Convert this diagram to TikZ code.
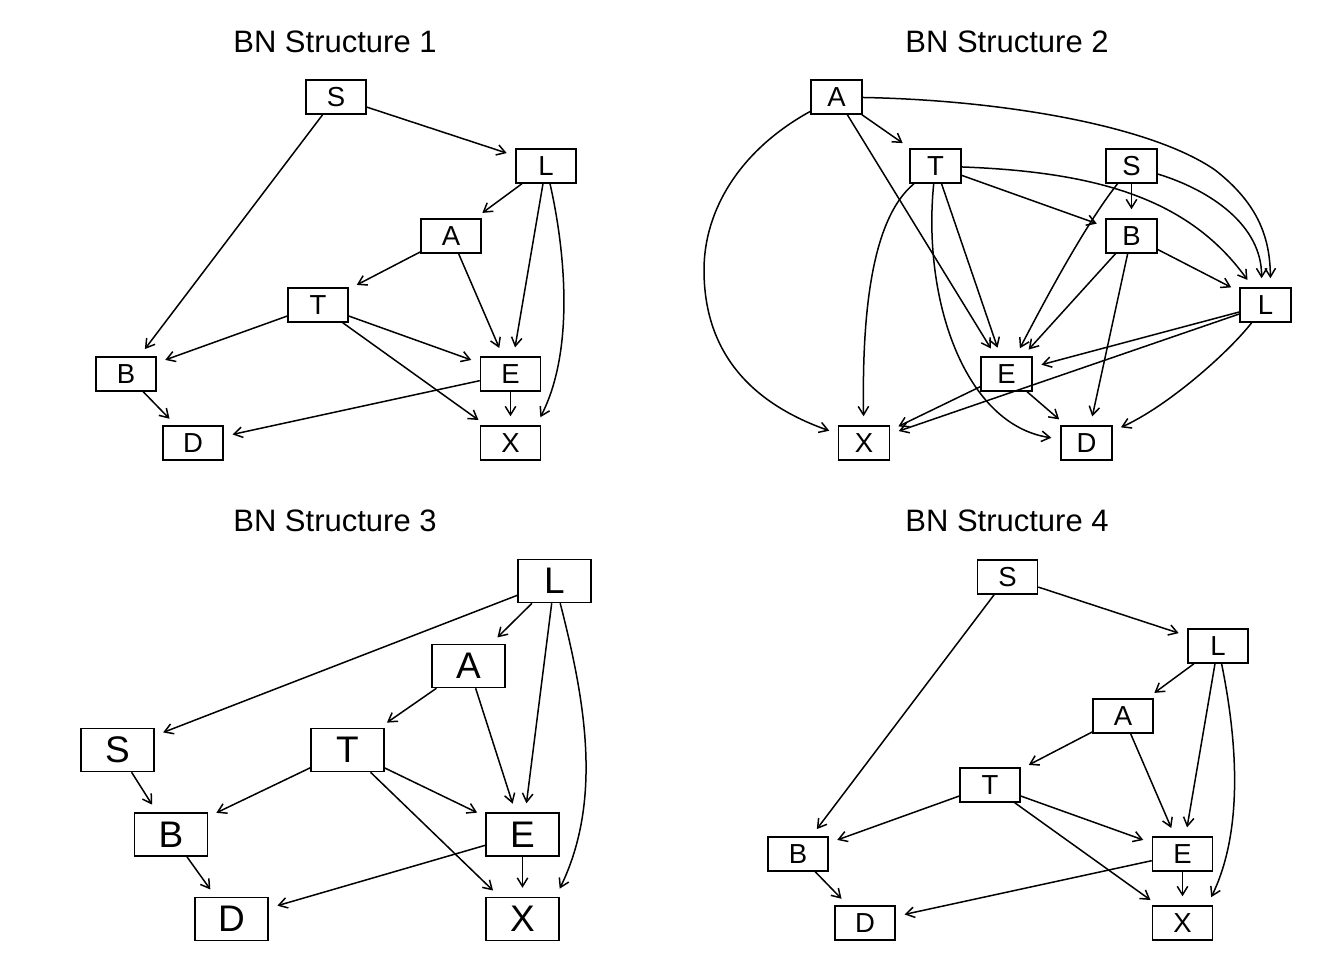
\documentclass[tikz,border=0pt]{standalone}
\usepackage{fontspec}
\setmainfont{Liberation Sans}
\usetikzlibrary{arrows.meta}

\tikzset{
  bn/.style={draw,line width=1.5pt,rectangle,inner sep=0pt,minimum width=60pt,minimum height=34pt,font=\fontsize{27.5}{27.5}\selectfont},
  bnnarrow/.style={bn,minimum width=51pt},
  bnbig/.style={bn,minimum width=73pt,minimum height=43pt,font=\fontsize{37}{37}\selectfont},
  dagedge/.style={line width=1.5pt,-{Straight Barb[length=8.5pt,width=10.5pt]},shorten >=9pt},
  bntitle/.style={font=\fontsize{31}{31}\selectfont}
}

\begin{document}
\begin{tikzpicture}[x=1pt,y=-1pt]
  \useasboundingbox (0,0) rectangle (1344,960);

  \node[bntitle] (title1) at (335,42) {BN Structure 1};
  \node[bntitle] (title2) at (1007,42) {BN Structure 2};
  \node[bntitle] (title3) at (335,521) {BN Structure 3};
  \node[bntitle] (title4) at (1007,521) {BN Structure 4};

  \node[bn] (S1) at (336,97) {S};
  \node[bn] (L1) at (546,166) {L};
  \node[bn] (A1) at (451,236) {A};
  \node[bn] (T1) at (318,305) {T};
  \node[bn] (B1) at (126,374) {B};
  \node[bn] (E1) at (510.5,374) {E};
  \node[bn] (D1) at (193,443) {D};
  \node[bn] (X1) at (510.5,443) {X};
  \draw[dagedge] (S1) -- (B1);
  \draw[dagedge] (S1) -- (L1);
  \draw[dagedge] (L1) -- (A1);
  \draw[dagedge] (L1) -- (E1);
  \draw[dagedge] (L1) .. controls (565,250) and (575,350) .. ([xshift=-5pt]X1.north east);
  \draw[dagedge] (A1) -- (T1);
  \draw[dagedge] (A1) -- (E1);
  \draw[dagedge] (T1) -- (B1);
  \draw[dagedge] (T1) -- (E1);
  \draw[dagedge] (T1) -- (X1);
  \draw[dagedge] (B1) -- (D1);
  \draw[dagedge] (E1) -- (D1);
  \draw[dagedge] (E1) -- (X1);

  \node[bnnarrow] (A2) at (836.5,97) {A};
  \node[bnnarrow] (T2) at (935.5,166) {T};
  \node[bnnarrow] (S2) at (1131.5,166) {S};
  \node[bnnarrow] (B2) at (1131.5,236) {B};
  \node[bnnarrow] (L2) at (1265.5,305) {L};
  \node[bnnarrow] (E2) at (1006.5,374) {E};
  \node[bnnarrow] (X2) at (864,443) {X};
  \node[bnnarrow] (D2) at (1086.5,443) {D};
  \draw[dagedge] (A2) -- (T2);
  \draw[dagedge] (A2) -- (E2);
  \draw[dagedge] (A2) .. controls (740,150) and (704,210) .. (704,270)
    .. controls (704,350) and (748,402) .. (X2);
  \draw[dagedge] (A2) .. controls (1000,100) and (1150,125) .. (1215,170)
    .. controls (1260,205) and (1270,240) .. ([xshift=5pt]L2.north);
  \draw[dagedge] (T2) -- (E2);
  \draw[dagedge] (T2) -- (B2);
  \draw[dagedge] (T2) .. controls (1100,172) and (1190,200) .. (L2);
  \draw[dagedge] (T2) .. controls (870,220) and (862,320) .. (X2);
  \draw[dagedge] (T2) .. controls (922,300) and (965,425) .. (D2);
  \draw[dagedge] (S2) -- (B2);
  \draw[dagedge] (S2) .. controls (1085,225) and (1045,300) .. (E2);
  \draw[dagedge] (S2) .. controls (1210,190) and (1262,225) .. ([xshift=-4pt]L2.north);
  \draw[dagedge] (B2) -- (E2);
  \draw[dagedge] (B2) -- (L2);
  \draw[dagedge] (B2) -- (D2);
  \draw[dagedge] (L2) -- (E2);
  \draw[dagedge] (L2) -- (X2);
  \draw[dagedge] (L2) .. controls (1228,353) and (1168,406) .. (D2);
  \draw[dagedge] (E2) -- (X2);
  \draw[dagedge] (E2) -- (D2);

  \node[bnbig] (L3) at (554.5,581) {L};
  \node[bnbig] (A3) at (468.5,666) {A};
  \node[bnbig] (S3) at (117.5,750) {S};
  \node[bnbig] (T3) at (347.5,750) {T};
  \node[bnbig] (B3) at (171,834.5) {B};
  \node[bnbig] (E3) at (522.5,834.5) {E};
  \node[bnbig] (D3) at (231.5,919) {D};
  \node[bnbig] (X3) at (522.5,919) {X};
  \draw[dagedge] (L3) -- (S3);
  \draw[dagedge] (L3) -- (A3);
  \draw[dagedge] (L3) -- (E3);
  \draw[dagedge] (L3) .. controls (585,700) and (603,800) .. ([xshift=-4pt]X3.north east);
  \draw[dagedge] (A3) -- (T3);
  \draw[dagedge] (A3) -- (E3);
  \draw[dagedge] (S3) -- (B3);
  \draw[dagedge] (T3) -- (B3);
  \draw[dagedge] (T3) -- (E3);
  \draw[dagedge] (T3) -- (X3);
  \draw[dagedge] (B3) -- (D3);
  \draw[dagedge] (E3) -- (D3);
  \draw[dagedge] (E3) -- (X3);

  \node[bn] (S4) at (1007.5,577) {S};
  \node[bn] (L4) at (1218,646) {L};
  \node[bn] (A4) at (1123,716) {A};
  \node[bn] (T4) at (990,785) {T};
  \node[bn] (B4) at (798,854) {B};
  \node[bn] (E4) at (1182.5,854) {E};
  \node[bn] (D4) at (865,923) {D};
  \node[bn] (X4) at (1182.5,923) {X};
  \draw[dagedge] (S4) -- (B4);
  \draw[dagedge] (S4) -- (L4);
  \draw[dagedge] (L4) -- (A4);
  \draw[dagedge] (L4) -- (E4);
  \draw[dagedge] (L4) .. controls (1235,730) and (1246,826) .. ([xshift=-6pt]X4.north east);
  \draw[dagedge] (A4) -- (T4);
  \draw[dagedge] (A4) -- (E4);
  \draw[dagedge] (T4) -- (B4);
  \draw[dagedge] (T4) -- (E4);
  \draw[dagedge] (T4) -- (X4);
  \draw[dagedge] (B4) -- (D4);
  \draw[dagedge] (E4) -- (D4);
  \draw[dagedge] (E4) -- (X4);
\end{tikzpicture}
\end{document}
